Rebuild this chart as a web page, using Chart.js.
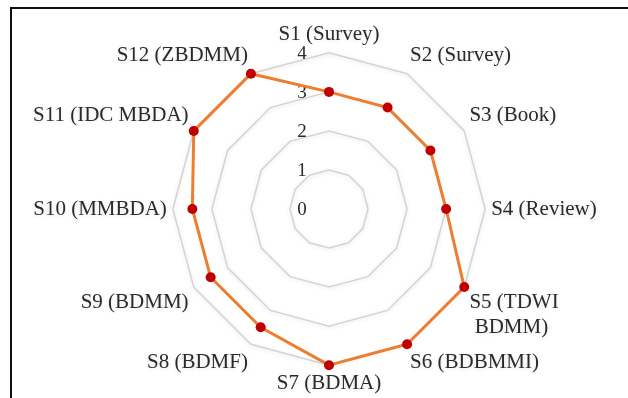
<!DOCTYPE html>
<html>
<head>
<meta charset="utf-8">
<script src="https://cdn.jsdelivr.net/npm/chart.js@4.4.0/dist/chart.umd.min.js"></script>
<style>
    html, body { margin: 0; padding: 0; background: #fff; }
    #wrap { position: relative; width: 628px; height: 398px; overflow: hidden; }
    #grafico { position: absolute; left: 0; top: 0; }
    #frame {
        position: absolute; left: 10px; top: 7px;
        width: 700px; height: 500px;
        border-top: 2px solid #111; border-left: 2px solid #111;
    }
</style>
</head>
<body>
<div id="wrap">
    <canvas id="grafico" width="628" height="398"></canvas>
    <div id="frame"></div>
</div>
<script>
const categorias = [
    "S1 (Survey)",
    "S2 (Survey)",
    "S3 (Book)",
    "S4 (Review)",
    ["S5 (TDWI", " BDMM)"],
    "S6 (BDBMMI)",
    "S7 (BDMA)",
    "S8 (BDMF)",
    "S9 (BDMM)",
    "S10 (MMBDA)",
    "S11 (IDC MBDA)",
    "S12 (ZBDMM)"
];

const valores = [3, 3, 3, 3, 4, 4, 4, 3.5, 3.5, 3.5, 4, 4];

const marcas = [0, 1, 2, 3, 4];

// tick numbers sit left of the vertical axis, like the original
const rotulosEscala = {
    id: "rotulosEscala",
    beforeDatasetsDraw(chart) {
        const r = chart.scales.r;
        const ctx = chart.ctx;
        ctx.save();
        ctx.font = "19px 'Liberation Serif'";
        ctx.fillStyle = "#2a2a2a";
        ctx.textAlign = "center";
        ctx.textBaseline = "middle";
        marcas.forEach(v => {
            const d = r.getDistanceFromCenterForValue(v);
            ctx.fillText(String(v), r.xCenter - 27, r.yCenter - d + 1);
        });
        ctx.restore();
    }
};

// soft glow under the grid rings
const sombraGrade = {
    id: "sombraGrade",
    beforeDraw(chart) {
        chart.ctx.save();
        chart.ctx.shadowColor = "rgba(0,0,0,0.12)";
        chart.ctx.shadowBlur = 4;
        chart.ctx.shadowOffsetY = 1;
    },
    beforeDatasetsDraw(chart) {
        chart.ctx.restore();
    }
};

new Chart(
    document.getElementById("grafico"),
    {
        type: "radar",
        data: {
            labels: categorias,
            datasets: [{
                data: valores,
                borderColor: "#ED7D31",
                borderWidth: 3,
                backgroundColor: "rgba(0,0,0,0)",
                fill: false,
                pointBackgroundColor: "#C00000",
                pointBorderColor: "#C00000",
                pointRadius: 5,
                pointBorderWidth: 0
            }]
        },
        options: {
            responsive: false,
            animation: false,
            devicePixelRatio: 1,
            layout: {
                padding: { left: 19, right: 17, top: 21, bottom: -2 }
            },
            plugins: {
                legend: { display: false },
                tooltip: { enabled: false }
            },
            scales: {
                r: {
                    min: 0,
                    max: 4,
                    ticks: {
                        stepSize: 1,
                        display: false
                    },
                    grid: {
                        color: "#d4d4d4",
                        lineWidth: 1.5
                    },
                    angleLines: { display: false },
                    pointLabels: {
                        color: "#2a2a2a",
                        padding: 6,
                        font: {
                            family: "'Liberation Serif'",
                            size: 21
                        }
                    }
                }
            }
        },
        plugins: [sombraGrade, rotulosEscala]
    }
);
</script>
</body>
</html>
